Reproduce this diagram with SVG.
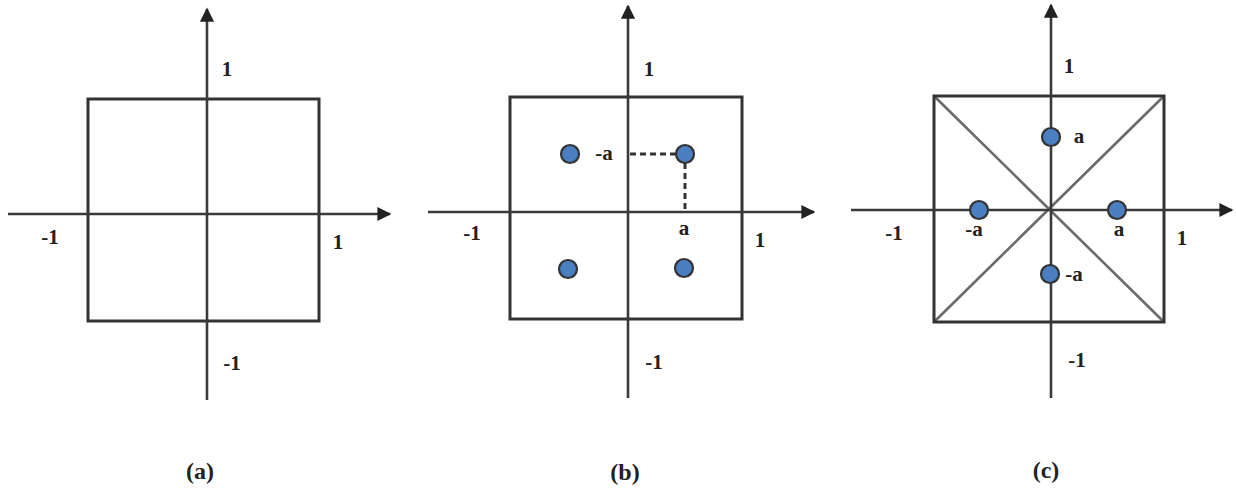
<svg xmlns="http://www.w3.org/2000/svg" width="1236" height="489" viewBox="0 0 1236 489">
<style>
.ax{stroke:#3a3a3a;stroke-width:2.6;fill:none}
.sq{stroke:#333;stroke-width:3;fill:none}
.dg{stroke:#6a6a6a;stroke-width:2.6;fill:none}
.ds{stroke:#333;stroke-width:3;stroke-dasharray:6,4;fill:none}
.dot{fill:#4a7fc1;stroke:#333;stroke-width:2.2}
text{font-family:"Liberation Serif","Times New Roman",serif;font-weight:bold;font-size:21px;fill:#222;text-anchor:middle}
text.cap{font-size:24px}
</style>
<defs>
<marker id="arr" viewBox="0 0 10 10" refX="9" refY="5" markerWidth="6" markerHeight="5.4" markerUnits="strokeWidth" orient="auto">
<path d="M0,0 L10,5 L0,10 Z" fill="#222"/>
</marker>
</defs>
<rect width="1236" height="489" fill="#fff"/>
<g id="panel-a">
<rect class="sq" x="88" y="99" width="231" height="222"/>
<g id="axes-a">
<line class="ax" x1="207" y1="400" x2="207" y2="9" marker-end="url(#arr)"/>
<line class="ax" x1="8" y1="214" x2="390" y2="214" marker-end="url(#arr)"/>
</g>
<text x="227" y="76">1</text>
<text x="50" y="244">-1</text>
<text x="338" y="249">1</text>
<text x="232" y="370">-1</text>
<text class="cap" x="200" y="479">(a)</text>
</g>
<g id="panel-b">
<rect class="sq" x="510" y="97" width="232" height="222"/>
<g id="axes-b">
<line class="ax" x1="628" y1="398" x2="628" y2="6" marker-end="url(#arr)"/>
<line class="ax" x1="428" y1="212" x2="814" y2="212" marker-end="url(#arr)"/>
<path class="ds" d="M630,154 H676 M685,163 V212"/>
</g>
<circle class="dot" cx="570" cy="154" r="9"/>
<circle class="dot" cx="685" cy="154" r="9"/>
<circle class="dot" cx="568" cy="269" r="9"/>
<circle class="dot" cx="684" cy="268" r="9"/>
<text x="604" y="160">-a</text>
<text x="684" y="235">a</text>
<text x="649" y="76">1</text>
<text x="472" y="240">-1</text>
<text x="760" y="247">1</text>
<text x="654" y="369">-1</text>
<text class="cap" x="625" y="480">(b)</text>
</g>
<g id="panel-c">
<line class="dg" x1="934" y1="96" x2="1164" y2="322"/>
<line class="dg" x1="1164" y1="96" x2="934" y2="322"/>
<rect class="sq" x="934" y="96" width="230" height="226"/>
<g id="axes-c">
<line class="ax" x1="1051" y1="398" x2="1051" y2="5" marker-end="url(#arr)"/>
<line class="ax" x1="851" y1="210" x2="1232" y2="210" marker-end="url(#arr)"/>
</g>
<circle class="dot" cx="1051" cy="137" r="9"/>
<circle class="dot" cx="979" cy="210" r="9"/>
<circle class="dot" cx="1117" cy="210" r="9"/>
<circle class="dot" cx="1050" cy="274" r="9"/>
<text x="1079" y="143">a</text>
<text x="974" y="236">-a</text>
<text x="1119" y="236">a</text>
<text x="1074" y="281">-a</text>
<text x="1069" y="73">1</text>
<text x="894" y="240">-1</text>
<text x="1182" y="245">1</text>
<text x="1077" y="367">-1</text>
<text class="cap" x="1046" y="478">(c)</text>
</g>
</svg>
